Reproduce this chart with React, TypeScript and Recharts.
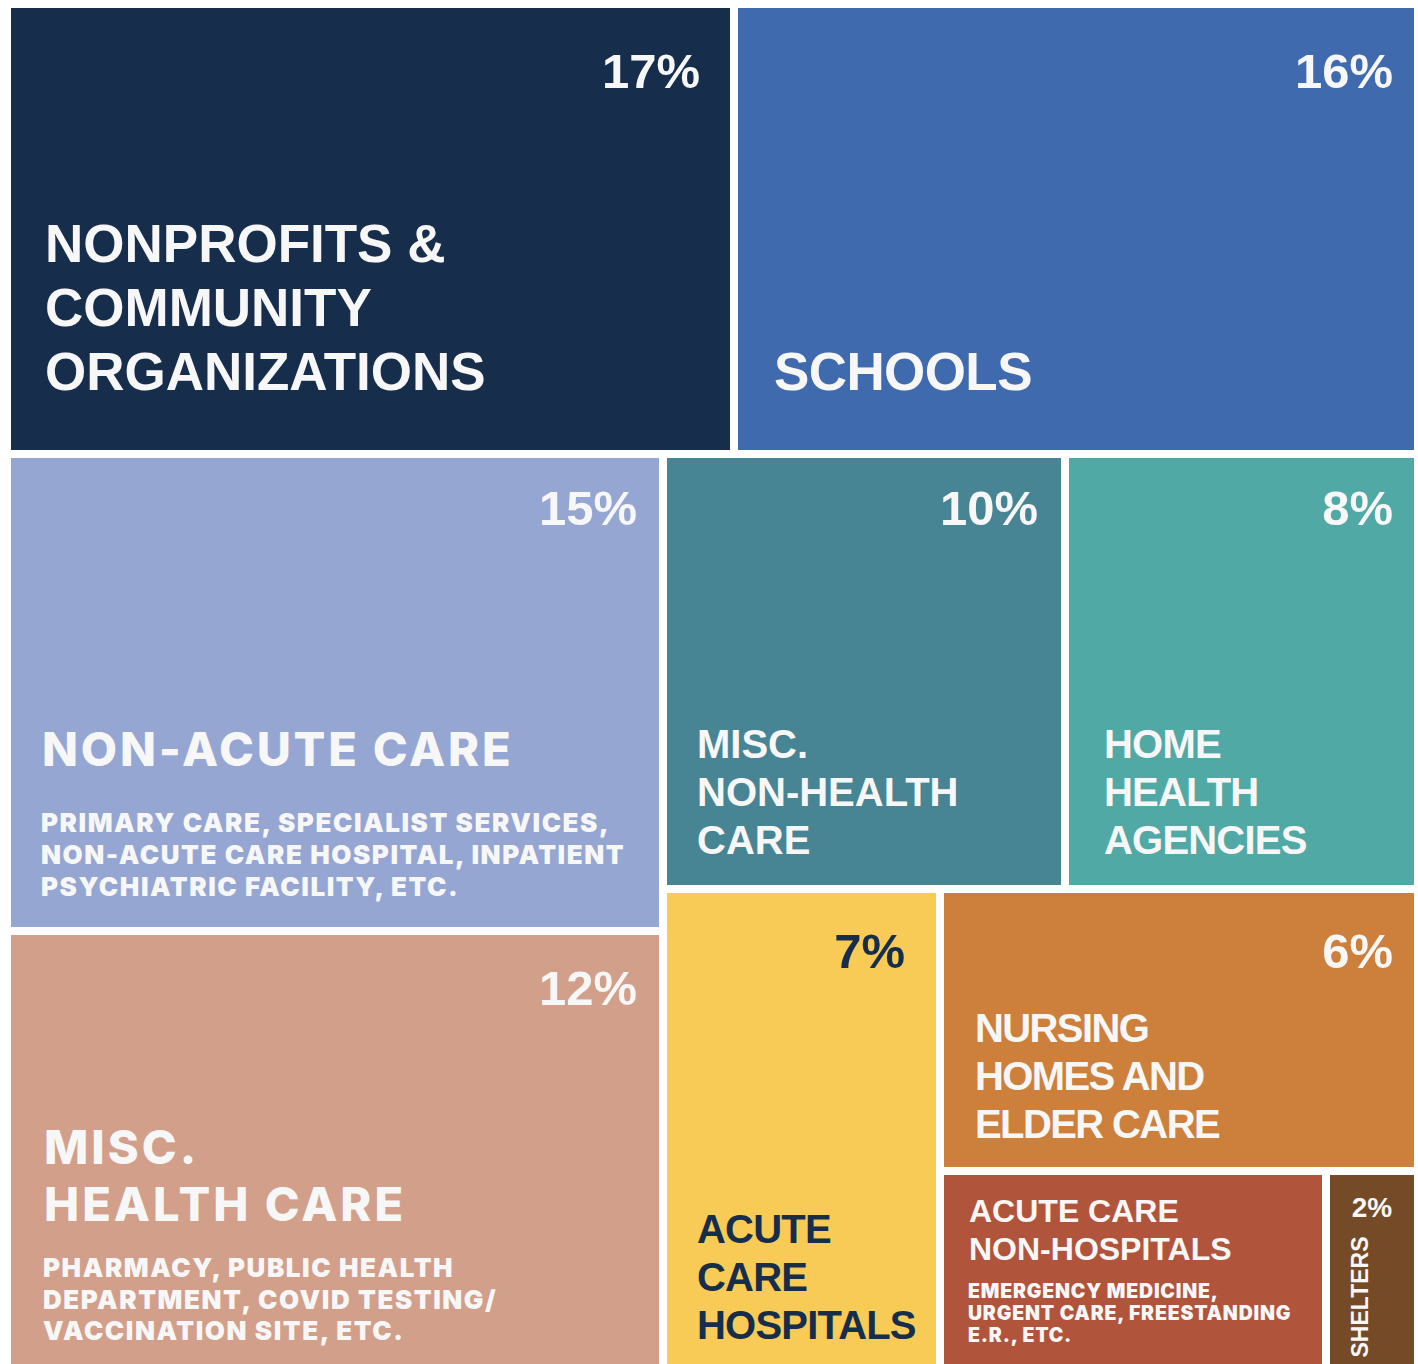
import { Treemap } from 'recharts';

// tile ids, in layout order
const ids = [
  'nonprofits', 'schools', 'nonAcute', 'miscHealth', 'miscNonHealth',
  'homeHealth', 'acuteHosp', 'nursing', 'acuteNonHosp', 'shelters',
];

const titles = [
  ['NONPROFITS &', 'COMMUNITY', 'ORGANIZATIONS'],
  ['SCHOOLS'],
  ['NON-ACUTE CARE'],
  ['MISC.', 'HEALTH CARE'],
  ['MISC.', 'NON-HEALTH', 'CARE'],
  ['HOME', 'HEALTH', 'AGENCIES'],
  ['ACUTE', 'CARE', 'HOSPITALS'],
  ['NURSING', 'HOMES AND', 'ELDER CARE'],
  ['ACUTE CARE', 'NON-HOSPITALS'],
  ['SHELTERS'],
];

const details = [
  [],
  [],
  ['PRIMARY CARE, SPECIALIST SERVICES,', 'NON-ACUTE CARE HOSPITAL, INPATIENT', 'PSYCHIATRIC FACILITY, ETC.'],
  ['PHARMACY, PUBLIC HEALTH', 'DEPARTMENT, COVID TESTING/', 'VACCINATION SITE, ETC.'],
  [],
  [],
  [],
  [],
  ['EMERGENCY MEDICINE,', 'URGENT CARE, FREESTANDING', 'E.R., ETC.'],
  [],
];

const shareLabels = ['17%', '16%', '15%', '12%', '10%', '8%', '7%', '6%', '', '2%'];

const tileArea = [16.99, 16.0, 16.26, 14.9, 9.09, 7.98, 6.89, 7.0, 3.96, 0.94];

const leaf = (k: number) => ({ name: ids[k], k, size: tileArea[k] });

const data = [
  { name: 'top', children: [leaf(0), leaf(1)] },
  {
    name: 'bottom',
    children: [
      { name: 'left', children: [leaf(2), leaf(3)] },
      {
        name: 'right',
        children: [
          { name: 'rightTop', children: [leaf(4), leaf(5)] },
          {
            name: 'rightBottom',
            children: [
              leaf(6),
              { name: 'rest', children: [leaf(7), { name: 'small', children: [leaf(8), leaf(9)] }] },
            ],
          },
        ],
      },
    ],
  },
];

const SANS = '"Liberation Sans", Arial, sans-serif';
const HEAVY = 'Inter, "Liberation Sans", sans-serif';
const WHITE = '#f7f7f7';
const NAVY = '#172d4c';

interface Look {
  fill: string;
  ink: string;
  pad: number;
  pctSize: number;
  pctBase: number;
  pctRight: number;
  titleSize: number;
  titleBase: number;
  titleStep: number;
  titleFont?: string;
  titleWeight?: number;
  titleSpacing?: number;
  detailSize?: number;
  detailBase?: number;
  detailStep?: number;
  detailSpacing?: number;
}

const look: Record<string, Look> = {
  nonprofits: { fill: '#172d4c', ink: WHITE, pad: 34, pctSize: 49, pctBase: 80, pctRight: 30, titleSize: 53, titleBase: 254, titleStep: 64, titleSpacing: 0 },
  schools: { fill: '#3f6aae', ink: WHITE, pad: 36, pctSize: 49, pctBase: 80, pctRight: 21, titleSize: 53, titleBase: 382, titleStep: 64, titleSpacing: -0.6 },
  nonAcute: {
    fill: '#96a6d3', ink: WHITE, pad: 31, pctSize: 49, pctBase: 67, pctRight: 22,
    titleSize: 47, titleBase: 308, titleStep: 57, titleFont: HEAVY, titleWeight: 800, titleSpacing: 2.8,
    detailSize: 26, detailBase: 374, detailStep: 32, detailSpacing: 1.55,
  },
  miscHealth: {
    fill: '#d29f8a', ink: WHITE, pad: 33, pctSize: 49, pctBase: 70, pctRight: 22,
    titleSize: 47, titleBase: 229, titleStep: 57, titleFont: HEAVY, titleWeight: 800, titleSpacing: 3,
    detailSize: 26, detailBase: 342, detailStep: 31.5, detailSpacing: 1.55,
  },
  miscNonHealth: { fill: '#478494', ink: WHITE, pad: 30, pctSize: 49, pctBase: 67, pctRight: 23, titleSize: 40, titleBase: 300, titleStep: 48 },
  homeHealth: { fill: '#51a9a5', ink: WHITE, pad: 35, pctSize: 49, pctBase: 67, pctRight: 21, titleSize: 40, titleBase: 300, titleStep: 48, titleSpacing: -0.8 },
  acuteHosp: { fill: '#f7cb55', ink: NAVY, pad: 30, pctSize: 49, pctBase: 75, pctRight: 31, titleSize: 40, titleBase: 350, titleStep: 48, titleSpacing: -0.8 },
  nursing: { fill: '#cd803c', ink: WHITE, pad: 31, pctSize: 49, pctBase: 75, pctRight: 21, titleSize: 40, titleBase: 149, titleStep: 48, titleSpacing: -1.6 },
  acuteNonHosp: {
    fill: '#b0553c', ink: WHITE, pad: 25, pctSize: 0, pctBase: 0, pctRight: 0,
    titleSize: 32, titleBase: 47, titleStep: 38,
    detailSize: 19.5, detailBase: 123, detailStep: 22, detailSpacing: 0.8,
  },
  shelters: { fill: '#754a27', ink: WHITE, pad: 38, pctSize: 28, pctBase: 42, pctRight: 0, titleSize: 23, titleBase: 122, titleStep: 0 },
};

const GAP = 4;

function renderTile(p: any) {
  if (typeof p.k !== 'number') return <g />;
  const id = ids[p.k];
  const s = look[id];
  const L = p.x + GAP;
  const T = p.y + GAP;
  const W = p.width - GAP * 2;
  const H = p.height - GAP * 2;
  const R = L + W;
  const pct = shareLabels[p.k];

  if (id === 'shelters') {
    return (
      <g>
        <rect x={L} y={T} width={W} height={H} fill={s.fill} />
        <text x={L + W / 2} y={T + s.pctBase} textAnchor="middle" fontFamily={SANS} fontWeight={700} fontSize={s.pctSize} fill={s.ink}>
          {pct}
        </text>
        <text
          transform={`translate(${L + s.pad},${T + s.titleBase}) rotate(-90)`}
          textAnchor="middle" fontFamily={SANS} fontWeight={700} fontSize={s.titleSize} fill={s.ink}
        >
          {titles[p.k][0]}
        </text>
      </g>
    );
  }

  return (
    <g>
      <rect x={L} y={T} width={W} height={H} fill={s.fill} />
      {pct && (
        <text x={R - s.pctRight} y={T + s.pctBase} textAnchor="end" fontFamily={SANS} fontWeight={700} fontSize={s.pctSize} fill={s.ink}>
          {pct}
        </text>
      )}
      {titles[p.k].map((line, i) => (
        <text
          key={`t${i}`}
          x={L + s.pad}
          y={T + s.titleBase + i * s.titleStep}
          fontFamily={s.titleFont ?? SANS}
          fontWeight={s.titleWeight ?? 700}
          fontSize={s.titleSize}
          letterSpacing={s.titleSpacing ?? 0}
          fill={s.ink}
        >
          {line}
        </text>
      ))}
      {details[p.k].map((line, i) => (
        <text
          key={`d${i}`}
          x={L + s.pad - 1}
          y={T + (s.detailBase ?? 0) + i * (s.detailStep ?? 0)}
          fontFamily={HEAVY}
          fontWeight={900}
          fontSize={s.detailSize}
          letterSpacing={s.detailSpacing ?? 0}
          fill={s.ink}
        >
          {line}
        </text>
      ))}
    </g>
  );
}

export default function App() {
  return (
    <div style={{ position: 'absolute', left: 7, top: 4, width: 1411, height: 1360, overflow: 'hidden', background: '#fff' }}>
      <Treemap
        width={1411}
        height={1364}
        data={data}
        dataKey="size"
        aspectRatio={1.12}
        isAnimationActive={false}
        content={renderTile}
      />
    </div>
  );
}
